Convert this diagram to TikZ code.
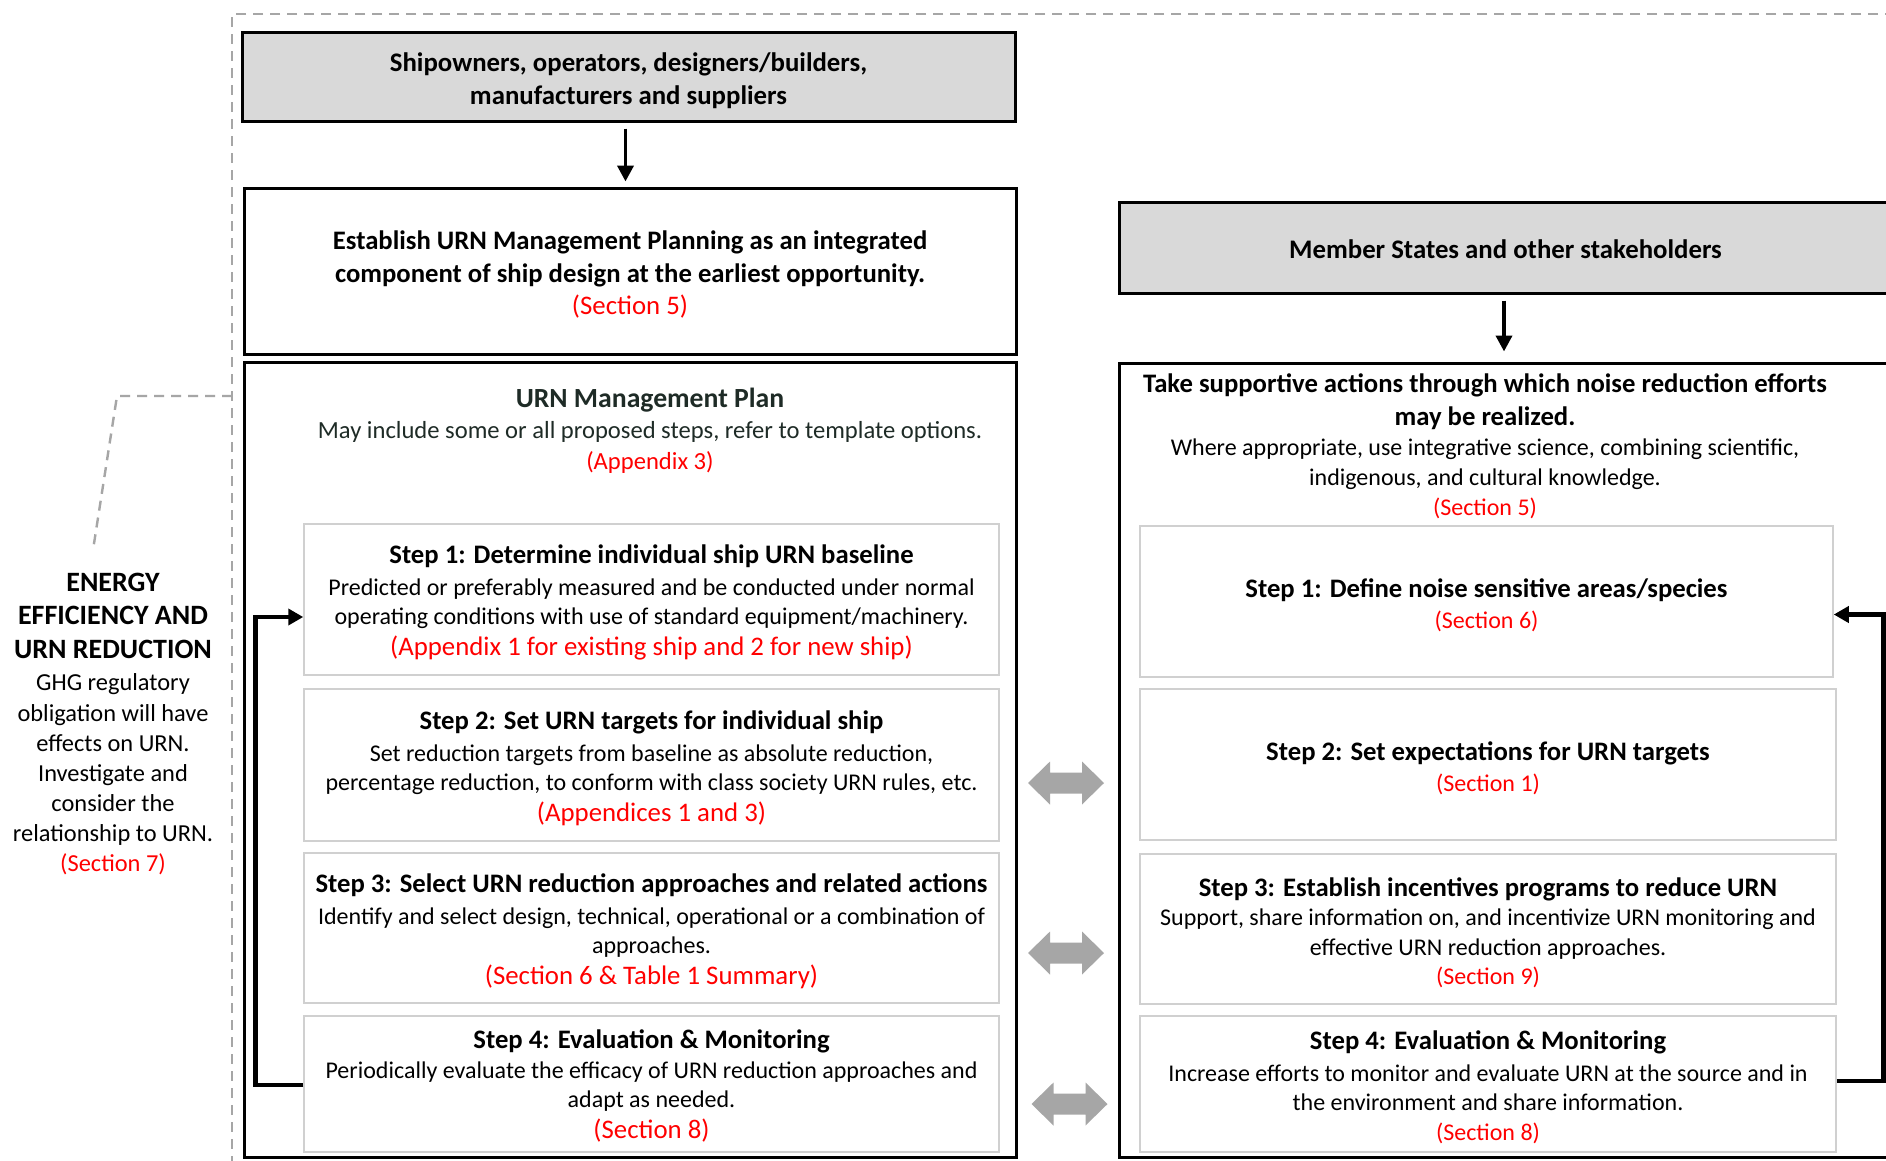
\documentclass[tikz,border=0pt]{standalone}
\usepackage{fontspec}
\setmainfont{Carlito}
\usetikzlibrary{arrows.meta,calc}
\definecolor{urnred}{HTML}{FF0000}
\definecolor{boxgray}{HTML}{D9D9D9}
\definecolor{stepgray}{HTML}{D0D0D0}
\definecolor{dashgray}{HTML}{A6A6A6}
\definecolor{arrowgray}{HTML}{A6A6A6}
\definecolor{plandark}{HTML}{1E2B26}
\newcommand\myfs[2]{\fontsize{#1}{#2}\selectfont}
\newcommand\rtxt[1]{\textcolor{urnred}{#1}}
\newcommand\ttl[1]{{\bfseries\myfs{26.7}{29}#1}}
\newcommand\bigred[1]{{\myfs{26.8}{29}\rtxt{#1}}}
\tikzset{
  x=1pt, y=-1pt,
  headbox/.style={draw=black, line width=3pt, fill=boxgray, inner sep=0pt},
  bigbox/.style={draw=black, line width=3pt, fill=white, inner sep=0pt},
  stepbox/.style={draw=stepgray, line width=1.5pt, fill=white, inner sep=0pt},
  txt/.style={align=center, inner sep=0pt, font=\myfs{24}{29}},
  headtxt/.style={align=center, inner sep=0pt, font=\bfseries\myfs{26.8}{33}},
  framedash/.style={draw=dashgray, line width=2.4pt, dash pattern=on 10pt off 7pt},
  toparr/.style={draw=black, line width=3.8pt, -{Triangle[length=16pt,width=16pt]}},
  looparr/.style={draw=black, line width=4.8pt, -{Triangle[length=15pt,width=16pt]}},
  dblarrow/.pic={\fill[arrowgray] (-38,0) -- (-16,-21.5) -- (-16,-10.5) -- (16,-10.5) -- (16,-21.5)
      -- (38,0) -- (16,21.5) -- (16,10.5) -- (-16,10.5) -- (-16,21.5) -- cycle;}
}
\begin{document}
\begin{tikzpicture}
\useasboundingbox (0,0) rectangle (1886,1160);
\clip (0,0) rectangle (1886,1160);
\fill[white] (0,0) rectangle (1886,1160);

% dashed frame
\draw[framedash] (1895,14) -- (232,14) -- (232,1170);
\coordinate (fr) at (232,396);
\coordinate (lk) at (117,396);
\coordinate (lt) at (93,550);
\draw[framedash] (fr) -- (lk) -- (lt);

% ---------------- left column
\node[headbox, minimum width=773pt, minimum height=89pt] (own) at (628.5,76.5) {};
\node[headtxt] (ownt) at ($(own)+(0,4)$)
  {Shipowners, operators, designers/builders,\\manufacturers and suppliers};
\node[bigbox, minimum width=772pt, minimum height=166pt] (est) at (630,271) {};
\node[headtxt, font=\bfseries\myfs{26.7}{32.5}] (estt) at ($(est)+(0,3.5)$)
  {Establish URN Management Planning as an integrated\\component of ship design at the earliest opportunity.\\
   {\mdseries\myfs{26.8}{29}\rtxt{(Section 5)}}};
\node[bigbox, minimum width=772pt, minimum height=795pt] (planL) at (630,759.5) {};
\node[txt, font=\myfs{24.6}{31}] (planhead) at (650,431)
  {\textcolor{plandark}{\bfseries\myfs{27.7}{31}URN Management Plan}\\
   \textcolor{plandark}{May include some or all proposed steps, refer to template options.}\\
   \rtxt{(Appendix 3)}};

\node[stepbox, minimum width=695pt, minimum height=151pt] (s1l) at (651.5,599.5) {};
\node[txt] (s1lt) at ($(s1l)+(0,3)$)
  {\ttl{Step 1: Determine individual ship URN baseline}\\[2.5pt]
   Predicted or preferably measured and be conducted under normal\\
   operating conditions with use of standard equipment/machinery.\\[2.5pt]
   \bigred{(Appendix 1 for existing ship and 2 for new ship)}};
\node[stepbox, minimum width=695pt, minimum height=152pt] (s2l) at (651.5,765) {};
\node[txt] (s2lt) at ($(s2l)+(0,3.5)$)
  {\ttl{Step 2: Set URN targets for individual ship}\\[2.5pt]
   Set reduction targets from baseline as absolute reduction,\\
   percentage reduction, to conform with class society URN rules, etc.\\[2.5pt]
   \bigred{(Appendices 1 and 3)}};
\node[stepbox, minimum width=695pt, minimum height=150pt] (s3l) at (651.5,928) {};
\node[txt] (s3lt) at ($(s3l)+(0,3.5)$)
  {\ttl{Step 3: Select URN reduction approaches and related actions}\\[2.5pt]
   Identify and select design, technical, operational or a combination of\\
   approaches.\\[2.5pt]
   \bigred{(Section 6 \& Table 1 Summary)}};
\node[stepbox, minimum width=695pt, minimum height=136pt] (s4l) at (651.5,1084) {};
\node[txt] (s4lt) at ($(s4l)+(0,2)$)
  {\ttl{Step 4: Evaluation \& Monitoring}\\[1pt]
   Periodically evaluate the efficacy of URN reduction approaches and\\
   adapt as needed.\\[2.5pt]
   \bigred{(Section 8)}};

% ---------------- right column
\node[headbox, minimum width=773pt, minimum height=91pt] (ms) at (1505.5,247.5) {};
\node[headtxt] (mst) at ($(ms)+(0,1.5)$) {Member States and other stakeholders};
\node[bigbox, minimum width=773pt, minimum height=794pt] (planR) at (1505.5,760) {};
\node[txt, font=\myfs{24}{30}] (rhead) at (1485,446)
  {\ttl{Take supportive actions through which noise reduction efforts}\\[3pt]
   \ttl{may be realized.}\\
   Where appropriate, use integrative science, combining scientific,\\
   indigenous, and cultural knowledge.\\
   \rtxt{(Section 5)}};

\node[stepbox, minimum width=693pt, minimum height=151pt] (s1r) at (1486.5,601.5) {};
\node[txt] (s1rt) at ($(s1r)+(0,4)$)
  {\ttl{Step 1: Define noise sensitive areas/species}\\[2.5pt]
   \rtxt{(Section 6)}};
\node[stepbox, minimum width=696pt, minimum height=151pt] (s2r) at (1488,764.5) {};
\node[txt] (s2rt) at ($(s2r)+(0,4)$)
  {\ttl{Step 2: Set expectations for URN targets}\\[2.5pt]
   \rtxt{(Section 1)}};
\node[stepbox, minimum width=696pt, minimum height=150pt] (s3r) at (1488,929) {};
\node[txt] (s3rt) at ($(s3r)+(0,3.5)$)
  {\ttl{Step 3: Establish incentives programs to reduce URN}\\
   Support, share information on, and incentivize URN monitoring and\\[1pt]
   effective URN reduction approaches.\\
   \rtxt{(Section 9)}};
\node[stepbox, minimum width=696pt, minimum height=136pt] (s4r) at (1488,1084) {};
\node[txt] (s4rt) at ($(s4r)+(0,3.5)$)
  {\ttl{Step 4: Evaluation \& Monitoring}\\[2.5pt]
   Increase efforts to monitor and evaluate URN at the source and in\\
   the environment and share information.\\[1pt]
   \rtxt{(Section 8)}};

% ---------------- left side note
\node[txt, font=\myfs{24.4}{30}] (note) at (113,724)
  {{\bfseries\myfs{28}{30}ENERGY}\\[3pt]
   {\bfseries\myfs{28}{30}EFFICIENCY AND}\\[3.5pt]
   {\bfseries\myfs{28}{30}URN REDUCTION}\\[2.5pt]
   GHG regulatory\\[1pt]
   obligation will have\\
   effects on URN.\\
   Investigate and\\
   consider the\\
   relationship to URN.\\
   \rtxt{(Section 7)}};

% ---------------- connectors
\draw[toparr, shorten <=6pt, shorten >=5pt] ([xshift=-3pt]own.south) -- ([xshift=-3pt]own.south |- est.north);
\draw[toparr, shorten <=6pt, shorten >=10pt] ([xshift=-1.5pt]ms.south) -- ([xshift=-1.5pt]ms.south |- planR.north);
\draw[looparr] ($(s4l.west)+(0,1)$) -- ++(-48,0) |- ($(s1l.west)+(0,17.5)$);
\draw[looparr] ($(s4r.east)+(0,-3)$) -- ++(47,0) |- ($(s1r.east)+(0,13)$);

% interaction arrows
\pic at (1066,783) {dblarrow};
\pic at (1066,953) {dblarrow};
\pic at (1069.5,1104) {dblarrow};
\end{tikzpicture}
\end{document}
